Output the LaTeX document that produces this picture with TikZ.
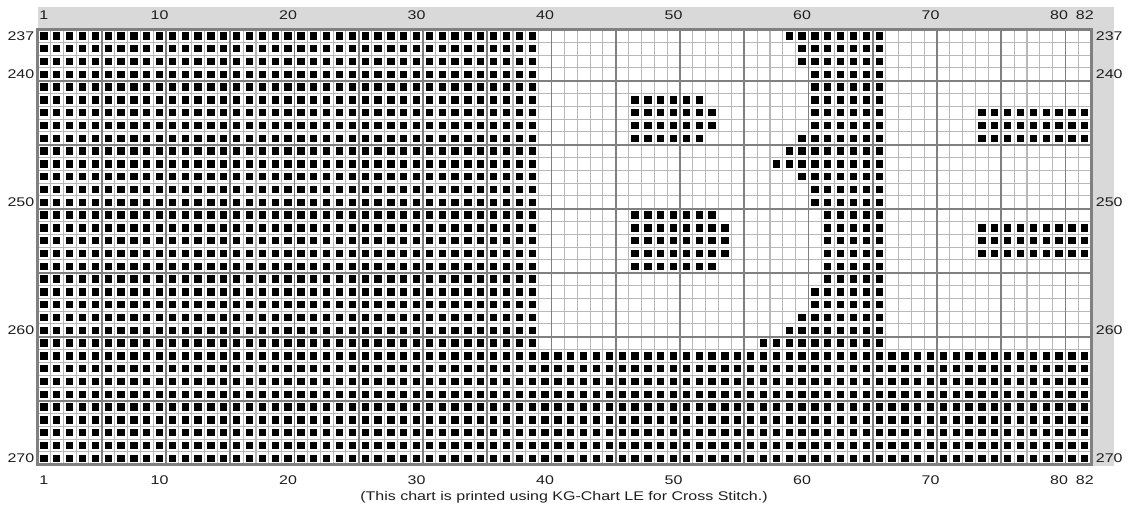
\documentclass[tikz,border=0pt]{standalone}
\usepackage{fontspec}
\setmainfont{Liberation Sans}
\usepackage{graphicx}
\definecolor{bandgray}{RGB}{217,217,217}
\definecolor{finegray}{RGB}{184,184,184}
\definecolor{majorgray}{RGB}{128,128,128}
\definecolor{inkgray}{RGB}{30,30,30}
\newcommand{\widelbl}[1]{\scalebox{1.27}[1]{#1}}

\begin{document}
\begin{tikzpicture}[
  x=1pt,y=-1pt,
  font=\fontsize{12.6}{14}\selectfont,
  band/.style={fill=bandgray},
  fine/.style={draw=finegray,line width=1.1pt},
  major/.style={draw=majorgray,line width=1.6pt},
  frame/.style={draw=majorgray,line width=2.8pt},
  stitch/.style={fill=black},
  lbl/.style={text=inkgray,inner sep=0pt}
]
\useasboundingbox (0,0) rectangle (1128,514);
% header and side bands
\fill[band] (37.5,7) rectangle (1114,29.5);
\fill[band] (1091,7) rectangle (1114,466);

\begin{scope}[shift={(37.5,29.5)}]
\def\cw{12.85}\def\ch{12.8}
\fill[white] (0,0) rectangle (82*\cw,34*\ch);
% grid
\foreach \c in {0,...,82} \draw[fine] (\c*\cw,0) -- (\c*\cw,34*\ch);
\foreach \r in {0,...,34} \draw[fine] (0,\r*\ch) -- (82*\cw,\r*\ch);
\foreach \c in {5,10,...,80} \draw[major] (\c*\cw,0) -- (\c*\cw,34*\ch);
\foreach \r in {4,9,...,29} \draw[major] (0,\r*\ch) -- (82*\cw,\r*\ch);
\draw[frame] (0,0) rectangle (82*\cw,34*\ch);

% stitches: left block, bottom band, then the motif
\foreach \r in {237,...,270}
  \foreach \c in {1,...,39}
    \fill[stitch] ({(\c-0.5)*\cw},{(\r-236.5)*\ch}) +(-3.65,-3.65) rectangle +(3.65,3.65);
\foreach \r in {262,...,270}
  \foreach \c in {40,...,82}
    \fill[stitch] ({(\c-0.5)*\cw},{(\r-236.5)*\ch}) +(-3.65,-3.65) rectangle +(3.65,3.65);
\foreach \r/\a/\b in {
  237/59/66, 238/60/66, 239/60/66, 240/61/66, 241/61/66,
  242/47/52, 242/61/66,
  243/47/53, 243/61/66, 243/74/82,
  244/47/53, 244/61/66, 244/74/82,
  245/47/52, 245/60/66, 245/74/82,
  246/59/66, 247/58/66, 248/60/66, 249/61/66, 250/61/66,
  251/47/53, 251/62/66,
  252/47/54, 252/62/66, 252/74/82,
  253/47/54, 253/62/66, 253/74/82,
  254/47/54, 254/62/66, 254/74/82,
  255/47/53, 255/62/66,
  256/62/66, 257/61/66, 258/61/66, 259/60/66, 260/59/66, 261/57/66}
  \foreach \c in {\a,...,\b}
    \fill[stitch] ({(\c-0.5)*\cw},{(\r-236.5)*\ch}) +(-3.65,-3.65) rectangle +(3.65,3.65);

% column and row numbers
\foreach \n in {1,10,20,30,40,50,60,70,80,82} {
  \node[lbl] (top\n) at ({(\n-0.5)*\cw},-14) {\widelbl{\n}};
  \node[lbl] (bot\n) at ({(\n-0.5)*\cw},450.5) {\widelbl{\n}};
}
\foreach \n in {237,240,250,260,270} {
  \node[lbl,anchor=east] (left\n) at (-3,{(\n-236.5)*\ch}) {\widelbl{\n}};
  \node[lbl,anchor=west] (right\n) at ({82*\cw+4.5},{(\n-236.5)*\ch}) {\widelbl{\n}};
}
\end{scope}

\node[lbl] (footer) at (564,497.5) {\widelbl{(This chart is printed using KG-Chart LE for Cross Stitch.)}};
\end{tikzpicture}
\end{document}
